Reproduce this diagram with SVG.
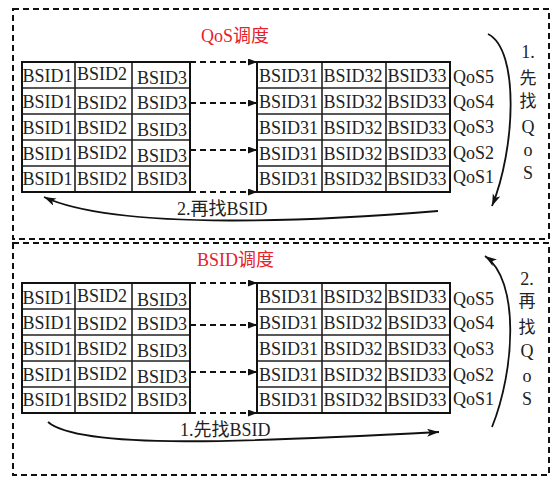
<svg xmlns="http://www.w3.org/2000/svg" width="554" height="477" viewBox="0 0 554 477">
<style>
.frame{fill:none;stroke:#111;stroke-width:2;stroke-dasharray:6 4}
.cell{fill:#fff;stroke:#222;stroke-width:1.6}
.outer{fill:none;stroke:#111;stroke-width:2}
.t{font-family:"Liberation Serif","Noto Sans CJK SC",serif;font-size:18px;fill:#222}
.cjk{font-family:"Liberation Serif","Noto Sans CJK SC",serif;font-size:17px;fill:#222}
.title{font-family:"Liberation Serif","Noto Sans CJK SC",serif;font-size:18px;fill:#e8202a}
.dash{fill:none;stroke:#111;stroke-width:2;stroke-dasharray:6 4}
.curve{fill:none;stroke:#111;stroke-width:1.8}
.v{text-anchor:middle}
</style>
<defs>
<marker id="ah" markerUnits="userSpaceOnUse" markerWidth="10" markerHeight="8" refX="9" refY="3.5" orient="auto">
<path d="M0,0 L9,3.5 L0,7 z" fill="#111"/>
</marker>
<marker id="ah2" markerUnits="userSpaceOnUse" markerWidth="13" markerHeight="9" refX="12" refY="4" orient="auto">
<path d="M0,0 L12,4 L0,8 L3,4 z" fill="#111"/>
</marker>
</defs>
<rect width="554" height="477" fill="#fff"/>

<!-- frames -->
<rect class="frame" x="13" y="9" width="536" height="230"/>
<rect class="frame" x="13" y="243" width="536" height="232"/>

<!-- ===== TOP PANEL ===== -->
<text id="title-qos" class="title" x="201" y="42">QoS调度</text>

<g id="top-left-table">
<path class="cell" d="M22,62 H190 V192 H22 Z M22,88 H190 M22,114 H190 M22,140 H190 M22,166 H190 M75,62 V192 M132,62 V192"/>
<rect class="outer" x="22" y="62" width="168" height="130"/>
<text class="t" x="22.5" y="82">BSID1</text><text class="t" x="77" y="80">BSID2</text><text class="t" x="137" y="84">BSID3</text>
<text class="t" x="22.5" y="108">BSID1</text><text class="t" x="77" y="109">BSID2</text><text class="t" x="137" y="109">BSID3</text>
<text class="t" x="22.5" y="134">BSID1</text><text class="t" x="77" y="134">BSID2</text><text class="t" x="137" y="136">BSID3</text>
<text class="t" x="22.5" y="160">BSID1</text><text class="t" x="77" y="159">BSID2</text><text class="t" x="137" y="162">BSID3</text>
<text class="t" x="22.5" y="185">BSID1</text><text class="t" x="77" y="185">BSID2</text><text class="t" x="137" y="185">BSID3</text>
</g>

<g id="top-right-table">
<path class="cell" d="M257,62 H450 V192 H257 Z M257,88 H450 M257,114 H450 M257,140 H450 M257,166 H450 M322,62 V192 M386,62 V192"/>
<rect class="outer" x="257" y="62" width="193" height="130"/>
<text class="t" x="259" y="82">BSID31</text><text class="t" x="323.5" y="82">BSID32</text><text class="t" x="387.5" y="82">BSID33</text>
<text class="t" x="259" y="108">BSID31</text><text class="t" x="323.5" y="108">BSID32</text><text class="t" x="387.5" y="108">BSID33</text>
<text class="t" x="259" y="134">BSID31</text><text class="t" x="323.5" y="134">BSID32</text><text class="t" x="387.5" y="134">BSID33</text>
<text class="t" x="259" y="160">BSID31</text><text class="t" x="323.5" y="160">BSID32</text><text class="t" x="387.5" y="160">BSID33</text>
<text class="t" x="259" y="185">BSID31</text><text class="t" x="323.5" y="185">BSID32</text><text class="t" x="387.5" y="185">BSID33</text>
</g>

<g id="top-qos-labels">
<text class="t" x="453" y="83">QoS5</text>
<text class="t" x="453" y="108">QoS4</text>
<text class="t" x="453" y="133">QoS3</text>
<text class="t" x="453" y="159">QoS2</text>
<text class="t" x="453" y="183">QoS1</text>
</g>

<g id="top-step1-label">
<text class="t v" x="528" y="58">1.</text>
<text class="cjk v" x="528" y="84">先</text>
<text class="cjk v" x="528" y="107">找</text>
<text class="t v" x="528" y="133">Q</text>
<text class="t v" x="528" y="156">o</text>
<text class="t v" x="528" y="179">S</text>
</g>

<g id="top-step2-label">
<text class="t" x="177" y="215">2.再找BSID</text>
</g>

<!-- ===== BOTTOM PANEL ===== -->
<text id="title-bsid" class="title" x="197" y="266">BSID调度</text>

<g id="bottom-left-table">
<path class="cell" d="M22,283 H190 V413 H22 Z M22,309 H190 M22,335 H190 M22,361 H190 M22,387 H190 M75,283 V413 M132,283 V413"/>
<rect class="outer" x="22" y="283" width="168" height="130"/>
<text class="t" x="22.5" y="304">BSID1</text><text class="t" x="77" y="302">BSID2</text><text class="t" x="137" y="306">BSID3</text>
<text class="t" x="22.5" y="329">BSID1</text><text class="t" x="77" y="330">BSID2</text><text class="t" x="137" y="330">BSID3</text>
<text class="t" x="22.5" y="355">BSID1</text><text class="t" x="77" y="355">BSID2</text><text class="t" x="137" y="357">BSID3</text>
<text class="t" x="22.5" y="381">BSID1</text><text class="t" x="77" y="380">BSID2</text><text class="t" x="137" y="383">BSID3</text>
<text class="t" x="22.5" y="406">BSID1</text><text class="t" x="77" y="406">BSID2</text><text class="t" x="137" y="406">BSID3</text>
</g>

<g id="bottom-right-table">
<path class="cell" d="M257,283 H450 V413 H257 Z M257,309 H450 M257,335 H450 M257,361 H450 M257,387 H450 M322,283 V413 M386,283 V413"/>
<rect class="outer" x="257" y="283" width="193" height="130"/>
<text class="t" x="259" y="303">BSID31</text><text class="t" x="323.5" y="303">BSID32</text><text class="t" x="387.5" y="303">BSID33</text>
<text class="t" x="259" y="329">BSID31</text><text class="t" x="323.5" y="329">BSID32</text><text class="t" x="387.5" y="329">BSID33</text>
<text class="t" x="259" y="355">BSID31</text><text class="t" x="323.5" y="355">BSID32</text><text class="t" x="387.5" y="355">BSID33</text>
<text class="t" x="259" y="381">BSID31</text><text class="t" x="323.5" y="381">BSID32</text><text class="t" x="387.5" y="381">BSID33</text>
<text class="t" x="259" y="406">BSID31</text><text class="t" x="323.5" y="406">BSID32</text><text class="t" x="387.5" y="406">BSID33</text>
</g>

<g id="bottom-qos-labels">
<text class="t" x="453" y="305">QoS5</text>
<text class="t" x="453" y="329">QoS4</text>
<text class="t" x="453" y="355">QoS3</text>
<text class="t" x="453" y="381">QoS2</text>
<text class="t" x="453" y="405">QoS1</text>
</g>

<g id="bottom-step2-label">
<text class="t v" x="527" y="285">2.</text>
<text class="cjk v" x="527" y="307">再</text>
<text class="cjk v" x="527" y="333">找</text>
<text class="t v" x="527" y="357">Q</text>
<text class="t v" x="527" y="382">o</text>
<text class="t v" x="527" y="405">S</text>
</g>

<g id="bottom-step1-label">
<text class="t" x="180" y="436">1.先找BSID</text>
</g>

<!-- ===== CONNECTORS ===== -->
<g id="connectors">
<path class="dash" d="M190,62 H257" marker-end="url(#ah)"/>
<path class="dash" d="M190,103 H257" marker-end="url(#ah)"/>
<path class="dash" d="M190,150 H257" marker-end="url(#ah)"/>
<path class="dash" d="M190,192 H257" marker-end="url(#ah)"/>
<path class="curve" d="M488,34 C520,50 515,150 492,206" marker-end="url(#ah2)"/>
<path class="curve" d="M438,211 C330,220 120,232 44,197" marker-end="url(#ah2)"/>

<path class="dash" d="M190,283 H257" marker-end="url(#ah)"/>
<path class="dash" d="M190,325 H257" marker-end="url(#ah)"/>
<path class="dash" d="M190,372 H257" marker-end="url(#ah)"/>
<path class="dash" d="M190,413 H257" marker-end="url(#ah)"/>
<path class="curve" d="M48,422 C80,450 250,442 439,432" marker-end="url(#ah2)"/>
<path class="curve" d="M492,427 C515,370 520,280 485,256" marker-end="url(#ah2)"/>
</g>
</svg>
